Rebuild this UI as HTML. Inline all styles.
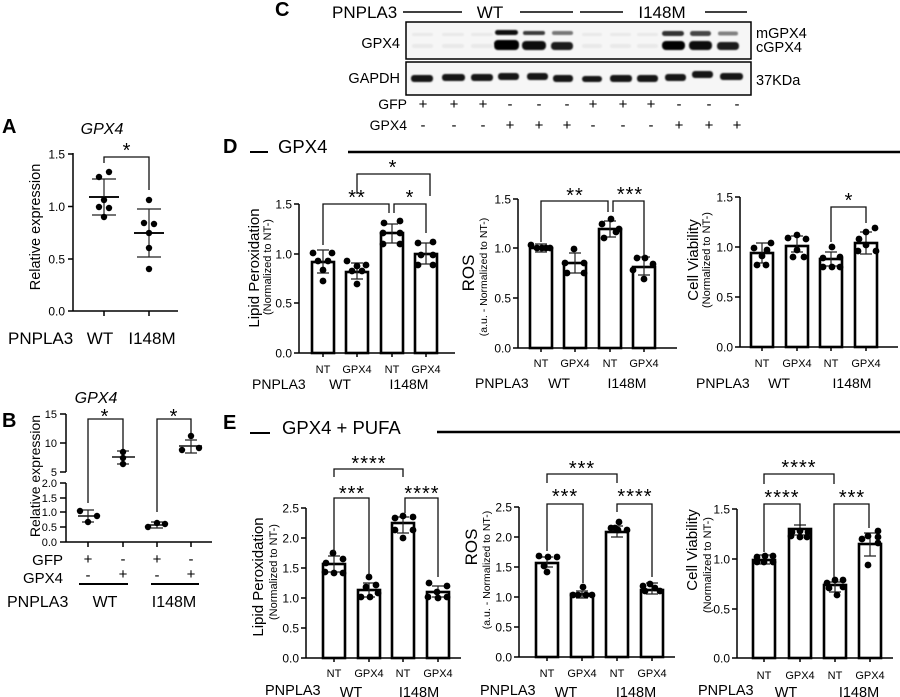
<!DOCTYPE html>
<html><head><meta charset="utf-8"><style>
html,body{margin:0;padding:0;background:#fff;}
svg{display:block;}
text{font-family:"Liberation Sans",Arial,sans-serif;fill:#000;}
.ax{stroke:#000;stroke-width:1.5;fill:none;}
.bar{fill:#fff;stroke:#000;stroke-width:2.6;}
.er{stroke:#222;stroke-width:1.2;fill:none;}
.br{stroke:#111;stroke-width:1.3;fill:none;}
.tk{font-size:12px;text-anchor:end;}
.xl{font-size:11px;text-anchor:middle;}
.st{font-size:20px;text-anchor:middle;letter-spacing:1px;}
.pm{font-size:15px;text-anchor:middle;}
</style></head><body>
<svg width="900" height="697" viewBox="0 0 900 697" xmlns="http://www.w3.org/2000/svg">
<rect width="900" height="697" fill="#fff"/>
<defs><filter id="bl" x="-20%" y="-50%" width="140%" height="200%"><feGaussianBlur stdDeviation="0.9"/></filter></defs>

<!-- ============ PANEL A ============ -->
<text x="2" y="133" font-size="20" font-weight="bold">A</text>
<text x="102" y="134" font-size="16" font-style="italic" text-anchor="middle">GPX4</text>
<path class="ax" d="M73,153V311H178 M68,154H73 M68,206.5H73 M68,259H73 M68,311H73 M104,311V316 M149,311V316"/>
<text class="tk" x="65" y="158.5" font-size="12.5">1.5</text>
<text class="tk" x="65" y="211" font-size="12.5">1.0</text>
<text class="tk" x="65" y="263.5" font-size="12.5">0.5</text>
<text class="tk" x="65" y="315.5" font-size="12.5">0.0</text>
<text transform="translate(40,227) rotate(-90)" font-size="14.5" text-anchor="middle">Relative expression</text>
<path class="br" d="M104,163V157H149V190"/>
<text class="st" x="127" y="157">*</text>
<path stroke="#111" stroke-width="2" d="M89,197H119 M134,233H164"/>
<path class="er" d="M104,179V215 M92,179H116 M92,215H116 M149,209V257 M137,209H161 M137,257H161"/>
<g fill="#000">
<circle cx="99" cy="177" r="3.2"/><circle cx="109" cy="172" r="3.2"/><circle cx="104" cy="200" r="3.2"/><circle cx="99" cy="207" r="3.2"/><circle cx="109" cy="208" r="3.2"/><circle cx="104" cy="217" r="3.2"/>
<circle cx="149" cy="200" r="3.2"/><circle cx="144" cy="223" r="3.2"/><circle cx="154" cy="224" r="3.2"/><circle cx="149" cy="233" r="3.2"/><circle cx="149" cy="248" r="3.2"/><circle cx="149" cy="269" r="3.2"/>
</g>
<text x="8" y="344" font-size="17">PNPLA3</text>
<text x="100" y="344" font-size="17" text-anchor="middle">WT</text>
<text x="152" y="344" font-size="17" text-anchor="middle">I148M</text>

<!-- ============ PANEL B ============ -->
<text x="2" y="427" font-size="20" font-weight="bold">B</text>
<text x="96" y="403" font-size="16" font-style="italic" text-anchor="middle">GPX4</text>
<path class="ax" d="M66,414V472 M66,483V542H212 M60,414H66 M60,443H66 M60,472H66 M60,483H66 M60,498H66 M60,512H66 M60,527H66 M60,542H66 M88,542V547 M123,542V547 M157,542V547 M191,542V547"/>
<g font-size="11" text-anchor="end">
<text x="57" y="418">15</text><text x="57" y="447">10</text><text x="57" y="476">5</text>
<text x="57" y="487">2.0</text><text x="57" y="502">1.5</text><text x="57" y="516">1.0</text><text x="57" y="531">0.5</text><text x="57" y="546">0.0</text>
</g>
<text transform="translate(40,476) rotate(-90)" font-size="14" text-anchor="middle">Relative expression</text>
<path class="br" d="M88,503V419H123V450 M157,512V419H191V433"/>
<text class="st" x="105" y="423">*</text>
<text class="st" x="174" y="423">*</text>
<path stroke="#111" stroke-width="1.6" d="M78,516H98 M112,457H135 M147,525H167 M179,446H202"/>
<path class="er" d="M88,510V522 M82,510H94 M82,522H94 M123,451V464 M117,451H129 M117,464H129 M157,522V528 M151,522H163 M151,528H163 M191,440V453 M185,440H197 M185,453H197"/>
<g fill="#000">
<circle cx="80" cy="511" r="3.2"/><circle cx="97" cy="516" r="3.2"/><circle cx="88" cy="522" r="3.2"/>
<circle cx="123" cy="452" r="3.2"/><circle cx="123" cy="458" r="3.2"/><circle cx="123" cy="464" r="3.2"/>
<circle cx="148" cy="527" r="3.2"/><circle cx="157" cy="523" r="3.2"/><circle cx="165" cy="524" r="3.2"/>
<circle cx="191" cy="436" r="3.2"/><circle cx="182" cy="450" r="3.2"/><circle cx="199" cy="448" r="3.2"/>
</g>
<text x="63" y="565" font-size="15" text-anchor="end">GFP</text>
<text x="63" y="583" font-size="15" text-anchor="end">GPX4</text>
<text class="pm" x="88" y="564">+</text><text class="pm" x="123" y="564">-</text><text class="pm" x="157" y="564">+</text><text class="pm" x="191" y="564">-</text>
<text class="pm" x="88" y="580">-</text><text class="pm" x="123" y="579">+</text><text class="pm" x="157" y="580">-</text><text class="pm" x="191" y="579">+</text>
<path stroke="#000" stroke-width="2" d="M79,584H128 M151,584H199"/>
<text x="7" y="607" font-size="16">PNPLA3</text>
<text x="105" y="607" font-size="16" text-anchor="middle">WT</text>
<text x="174" y="607" font-size="16" text-anchor="middle">I148M</text>

<!-- ============ PANEL C ============ -->
<text x="275" y="16" font-size="20" font-weight="bold">C</text>
<text x="332" y="18" font-size="17">PNPLA3</text>
<path stroke="#000" stroke-width="1.6" d="M403,12H462 M520,12H573 M580,12H623 M705,12H747"/>
<text x="490" y="18" font-size="17" text-anchor="middle">WT</text>
<text x="662" y="18" font-size="17" text-anchor="middle">I148M</text>
<rect x="406" y="22" width="345" height="37" fill="#f6f6f6" stroke="#000" stroke-width="1.5"/>
<rect x="406" y="62" width="345" height="33" fill="#f6f6f6" stroke="#000" stroke-width="1.5"/>
<g filter="url(#bl)">
<g fill="#e9e9e9">
<rect x="412" y="33" width="21" height="3" rx="1.5"/><rect x="442" y="33" width="22" height="3" rx="1.5"/><rect x="471" y="33" width="22" height="3" rx="1.5"/>
<rect x="412" y="44" width="21" height="4" rx="2"/><rect x="442" y="44" width="22" height="4" rx="2"/><rect x="471" y="44" width="22" height="4" rx="2"/>
<rect x="582" y="33" width="20" height="3" rx="1.5"/><rect x="610" y="33" width="21" height="3" rx="1.5"/><rect x="637" y="33" width="21" height="3" rx="1.5"/>
<rect x="582" y="44" width="20" height="4" rx="2"/><rect x="610" y="44" width="21" height="4" rx="2"/><rect x="637" y="44" width="21" height="4" rx="2"/>
</g>
<rect x="495" y="30" width="23" height="5" rx="2.5" fill="#111"/>
<rect x="523" y="31" width="22" height="4" rx="2" fill="#3a3a3a"/>
<rect x="552" y="31" width="21" height="4" rx="2" fill="#777"/>
<rect x="662" y="31" width="22" height="5" rx="2.5" fill="#333"/>
<rect x="690" y="31" width="21" height="5" rx="2.5" fill="#444"/>
<rect x="718" y="31.5" width="20" height="4" rx="2" fill="#808080"/>
<rect x="494" y="40" width="25" height="10" rx="4" fill="#000"/>
<rect x="522" y="41" width="24" height="9" rx="4" fill="#0a0a0a"/>
<rect x="551" y="42" width="22" height="8" rx="3.5" fill="#1e1e1e"/>
<rect x="662" y="41" width="23" height="9" rx="4" fill="#000"/>
<rect x="689" y="41" width="23" height="9" rx="4" fill="#0d0d0d"/>
<rect x="717" y="42" width="22" height="8" rx="3.5" fill="#1e1e1e"/>
<g fill="#141414">
<rect x="411" y="75" width="22" height="7" rx="3"/><rect x="442" y="74" width="23" height="7" rx="3"/><rect x="471" y="74" width="22" height="7" rx="3"/>
<rect x="498" y="73" width="21" height="7" rx="3"/><rect x="527" y="73" width="21" height="7" rx="3"/><rect x="553" y="75" width="20" height="7" rx="3"/>
<rect x="582" y="76" width="20" height="6" rx="3"/><rect x="610" y="75" width="22" height="7" rx="3"/><rect x="637" y="75" width="21" height="7" rx="3"/>
<rect x="665" y="74" width="21" height="7" rx="3"/><rect x="692" y="71" width="21" height="7" rx="3"/><rect x="720" y="73" width="23" height="7" rx="3"/>
</g>
</g>
<text x="400" y="48" font-size="14.5" text-anchor="end">GPX4</text>
<text x="400" y="83" font-size="14.5" text-anchor="end">GAPDH</text>
<text x="756" y="38" font-size="14.5">mGPX4</text>
<text x="756" y="52" font-size="14.5">cGPX4</text>
<text x="756" y="85" font-size="14.5">37KDa</text>
<text x="407" y="109" font-size="14" text-anchor="end">GFP</text>
<text x="407" y="130" font-size="14" text-anchor="end">GPX4</text>
<g>
<text class="pm" x="423" y="109">+</text><text class="pm" x="454" y="109">+</text><text class="pm" x="483" y="109">+</text>
<text class="pm" x="510" y="109">-</text><text class="pm" x="539" y="109">-</text><text class="pm" x="567" y="109">-</text>
<text class="pm" x="593" y="109">+</text><text class="pm" x="623" y="109">+</text><text class="pm" x="651" y="109">+</text>
<text class="pm" x="679" y="109">-</text><text class="pm" x="709" y="109">-</text><text class="pm" x="737" y="109">-</text>
<text class="pm" x="423" y="130">-</text><text class="pm" x="454" y="130">-</text><text class="pm" x="483" y="130">-</text>
<text class="pm" x="510" y="130">+</text><text class="pm" x="539" y="130">+</text><text class="pm" x="567" y="130">+</text>
<text class="pm" x="593" y="130">-</text><text class="pm" x="623" y="130">-</text><text class="pm" x="651" y="130">-</text>
<text class="pm" x="679" y="130">+</text><text class="pm" x="709" y="130">+</text><text class="pm" x="737" y="130">+</text>
</g>

<!-- ============ PANEL D HEADER ============ -->
<text x="223" y="153" font-size="20" font-weight="bold">D</text>
<path stroke="#000" stroke-width="2" d="M250,152H268"/>
<text x="278" y="153" font-size="18.5">GPX4</text>
<path stroke="#000" stroke-width="2.5" d="M348,152H900"/>

<!-- D Lipid -->
<path class="ax" d="M299,204V353H455 M294,204H299 M294,254H299 M294,303H299 M294,353H299 M323,353V357 M357,353V357 M392,353V357 M426,353V357"/>
<text class="tk" x="292" y="208.5">1.5</text><text class="tk" x="292" y="258.5">1.0</text><text class="tk" x="292" y="307.5">0.5</text><text class="tk" x="292" y="357.5">0.0</text>
<text transform="translate(259,268) rotate(-90)" font-size="15" text-anchor="middle">Lipid Peroxidation</text>
<text transform="translate(271,267) rotate(-90)" font-size="11" text-anchor="middle">(Normalized to NT-)</text>
<rect class="bar" x="312" y="262" width="22" height="91"/>
<rect class="bar" x="346" y="272" width="22" height="81"/>
<rect class="bar" x="381" y="233" width="22" height="120"/>
<rect class="bar" x="415" y="254" width="22" height="99"/>
<path class="er" d="M323,250V273 M317,250H329 M317,273H329 M357,263V279 M351,263H363 M351,279H363 M392,224V243 M386,224H398 M386,243H398 M426,243V264 M420,243H432 M420,264H432"/>
<g fill="#000">
<circle cx="313" cy="253" r="3.4"/><circle cx="332" cy="253" r="3.4"/><circle cx="318" cy="261" r="3.4"/><circle cx="328" cy="261" r="3.4"/><circle cx="323" cy="270" r="3.4"/><circle cx="323" cy="281" r="3.4"/>
<circle cx="347" cy="261" r="3.4"/><circle cx="366" cy="265" r="3.4"/><circle cx="357" cy="266" r="3.4"/><circle cx="352" cy="271" r="3.4"/><circle cx="362" cy="271" r="3.4"/><circle cx="357" cy="284" r="3.4"/>
<circle cx="384" cy="223" r="3.4"/><circle cx="400" cy="221" r="3.4"/><circle cx="383" cy="233" r="3.4"/><circle cx="400" cy="233" r="3.4"/><circle cx="383" cy="244" r="3.4"/><circle cx="400" cy="244" r="3.4"/>
<circle cx="418" cy="243" r="3.4"/><circle cx="433" cy="242" r="3.4"/><circle cx="421" cy="255" r="3.4"/><circle cx="433" cy="255" r="3.4"/><circle cx="418" cy="265" r="3.4"/><circle cx="433" cy="265" r="3.4"/>
</g>
<path class="br" d="M323,245V204H389V213 M394,213V204H426V233 M357,194V174H430V196"/>
<text class="st" x="357" y="204">**</text>
<text class="st" x="410" y="204">*</text>
<text class="st" x="393" y="174">*</text>
<text class="xl" x="323" y="373">NT</text><text class="xl" x="357" y="373">GPX4</text><text class="xl" x="392" y="373">NT</text><text class="xl" x="426" y="373">GPX4</text>
<text x="252" y="389" font-size="14">PNPLA3</text>
<text x="340" y="389" font-size="14" text-anchor="middle">WT</text>
<text x="409" y="389" font-size="14" text-anchor="middle">I148M</text>

<!-- D ROS -->
<path class="ax" d="M518,199V348H677 M513,199H518 M513,248H518 M513,298H518 M513,348H518 M541,348V352 M575,348V352 M610,348V352 M644,348V352"/>
<text class="tk" x="511" y="203.5">1.5</text><text class="tk" x="511" y="252.5">1.0</text><text class="tk" x="511" y="302.5">0.5</text><text class="tk" x="511" y="352.5">0.0</text>
<text transform="translate(474,273) rotate(-90)" font-size="17" text-anchor="middle">ROS</text>
<text transform="translate(487,277) rotate(-90)" font-size="10.5" text-anchor="middle">(a.u. - Normalized to NT-)</text>
<rect class="bar" x="530" y="248" width="22" height="100"/>
<rect class="bar" x="564" y="263" width="22" height="85"/>
<rect class="bar" x="599" y="229" width="22" height="119"/>
<rect class="bar" x="633" y="267" width="22" height="81"/>
<path class="er" d="M541,244V252 M535,244H547 M535,252H547 M575,253V273 M569,253H581 M569,273H581 M610,221V237 M604,221H616 M604,237H616 M644,257V275 M638,257H650 M638,275H650"/>
<g fill="#000">
<circle cx="531" cy="245" r="3.4"/><circle cx="537" cy="248" r="3.4"/><circle cx="542" cy="248" r="3.4"/><circle cx="546" cy="248" r="3.4"/><circle cx="550" cy="248" r="3.4"/>
<circle cx="574" cy="249" r="3.4"/><circle cx="565" cy="263" r="3.4"/><circle cx="584" cy="263" r="3.4"/><circle cx="567" cy="273" r="3.4"/><circle cx="584" cy="273" r="3.4"/>
<circle cx="611" cy="219" r="3.4"/><circle cx="602" cy="224" r="3.4"/><circle cx="619" cy="229" r="3.4"/><circle cx="604" cy="238" r="3.4"/><circle cx="616" cy="232" r="3.4"/>
<circle cx="637" cy="258" r="3.4"/><circle cx="645" cy="258" r="3.4"/><circle cx="653" cy="264" r="3.4"/><circle cx="633" cy="270" r="3.4"/><circle cx="644" cy="279" r="3.4"/>
</g>
<path class="br" d="M541,242V201H608V212 M613,212V201H644V256"/>
<text class="st" x="575" y="202">**</text>
<text class="st" x="630" y="201">***</text>
<text class="xl" x="541" y="367">NT</text><text class="xl" x="575" y="367">GPX4</text><text class="xl" x="610" y="367">NT</text><text class="xl" x="644" y="367">GPX4</text>
<text x="475" y="388" font-size="14">PNPLA3</text>
<text x="559" y="388" font-size="14" text-anchor="middle">WT</text>
<text x="627" y="388" font-size="14" text-anchor="middle">I148M</text>

<!-- D Cell Viability -->
<path class="ax" d="M740,197V347H898 M735,197H740 M735,247H740 M735,297H740 M735,347H740 M762,347V351 M797,347V351 M831,347V351 M866,347V351"/>
<text class="tk" x="733" y="201.5">1.5</text><text class="tk" x="733" y="251.5">1.0</text><text class="tk" x="733" y="301.5">0.5</text><text class="tk" x="733" y="351.5">0.0</text>
<text transform="translate(698,260) rotate(-90)" font-size="15" text-anchor="middle">Cell Viability</text>
<text transform="translate(710,260) rotate(-90)" font-size="11" text-anchor="middle">(Normalized to NT-)</text>
<rect class="bar" x="751" y="253" width="22" height="94"/>
<rect class="bar" x="786" y="246" width="22" height="101"/>
<rect class="bar" x="820" y="259" width="22" height="88"/>
<rect class="bar" x="855" y="243" width="22" height="104"/>
<path class="er" d="M762,243V263 M756,243H768 M756,263H768 M797,236V252 M791,236H803 M791,252H803 M831,252V266 M825,252H837 M825,266H837 M866,232V254 M860,232H872 M860,254H872"/>
<g fill="#000">
<circle cx="754" cy="248" r="3.4"/><circle cx="762" cy="256" r="3.4"/><circle cx="771" cy="243" r="3.4"/><circle cx="757" cy="265" r="3.4"/><circle cx="766" cy="265" r="3.4"/><circle cx="767" cy="250" r="3.4"/>
<circle cx="788" cy="238" r="3.4"/><circle cx="797" cy="235" r="3.4"/><circle cx="806" cy="239" r="3.4"/><circle cx="793" cy="257" r="3.4"/><circle cx="804" cy="257" r="3.4"/><circle cx="797" cy="250" r="3.4"/>
<circle cx="823" cy="258" r="3.4"/><circle cx="832" cy="247" r="3.4"/><circle cx="840" cy="257" r="3.4"/><circle cx="823" cy="267" r="3.4"/><circle cx="832" cy="267" r="3.4"/><circle cx="840" cy="267" r="3.4"/>
<circle cx="859" cy="239" r="3.4"/><circle cx="875" cy="228" r="3.4"/><circle cx="866" cy="245" r="3.4"/><circle cx="858" cy="251" r="3.4"/><circle cx="876" cy="251" r="3.4"/><circle cx="866" cy="232" r="3.4"/>
</g>
<path class="br" d="M831,242V207H866V223"/>
<text class="st" x="849" y="207">*</text>
<text class="xl" x="762" y="367">NT</text><text class="xl" x="797" y="367">GPX4</text><text class="xl" x="831" y="367">NT</text><text class="xl" x="866" y="367">GPX4</text>
<text x="696" y="388" font-size="14">PNPLA3</text>
<text x="779" y="388" font-size="14" text-anchor="middle">WT</text>
<text x="852" y="388" font-size="14" text-anchor="middle">I148M</text>

<!-- ============ PANEL E HEADER ============ -->
<text x="223" y="429" font-size="20" font-weight="bold">E</text>
<path stroke="#000" stroke-width="2" d="M250,433H270"/>
<text x="282" y="434" font-size="18.5">GPX4 + PUFA</text>
<path stroke="#000" stroke-width="2.5" d="M437,432H900"/>

<!-- E Lipid -->
<path class="ax" d="M306,508V658H461 M301,508H306 M301,538H306 M301,568H306 M301,598H306 M301,628H306 M301,658H306 M334,658V662 M369,658V662 M403,658V662 M438,658V662"/>
<text class="tk" x="299" y="512.5">2.5</text><text class="tk" x="299" y="542.5">2.0</text><text class="tk" x="299" y="572.5">1.5</text><text class="tk" x="299" y="602.5">1.0</text><text class="tk" x="299" y="632.5">0.5</text><text class="tk" x="299" y="662.5">0.0</text>
<text transform="translate(263,577) rotate(-90)" font-size="15" text-anchor="middle">Lipid Peroxidation</text>
<text transform="translate(277,572) rotate(-90)" font-size="11" text-anchor="middle">(Normalized to NT-)</text>
<rect class="bar" x="323" y="564" width="22" height="94"/>
<rect class="bar" x="358" y="590" width="22" height="68"/>
<rect class="bar" x="392" y="523" width="22" height="135"/>
<rect class="bar" x="427" y="592" width="22" height="66"/>
<path class="er" d="M334,556V572 M328,556H340 M328,572H340 M369,583V597 M363,583H375 M363,597H375 M403,517V533 M397,517H409 M397,533H409 M438,586V597 M432,586H444 M432,597H444"/>
<g fill="#000">
<circle cx="333" cy="553" r="3.4"/><circle cx="326" cy="563" r="3.4"/><circle cx="343" cy="559" r="3.4"/><circle cx="325" cy="572" r="3.4"/><circle cx="334" cy="573" r="3.4"/><circle cx="343" cy="573" r="3.4"/>
<circle cx="369" cy="577" r="3.4"/><circle cx="361" cy="597" r="3.4"/><circle cx="370" cy="597" r="3.4"/><circle cx="378" cy="593" r="3.4"/><circle cx="366" cy="587" r="3.4"/><circle cx="376" cy="585" r="3.4"/>
<circle cx="403" cy="516" r="3.4"/><circle cx="395" cy="518" r="3.4"/><circle cx="413" cy="517" r="3.4"/><circle cx="395" cy="530" r="3.4"/><circle cx="413" cy="530" r="3.4"/><circle cx="403" cy="538" r="3.4"/>
<circle cx="429" cy="583" r="3.4"/><circle cx="447" cy="586" r="3.4"/><circle cx="428" cy="597" r="3.4"/><circle cx="438" cy="598" r="3.4"/><circle cx="447" cy="597" r="3.4"/><circle cx="437" cy="592" r="3.4"/>
</g>
<path class="br" d="M334,552V498H369V575 M405,513V498H438V577 M334,477V469H403V477"/>
<text class="st" x="352" y="500">***</text>
<text class="st" x="422" y="500">****</text>
<text class="st" x="369" y="470">****</text>
<text class="xl" x="334" y="677">NT</text><text class="xl" x="369" y="677">GPX4</text><text class="xl" x="403" y="677">NT</text><text class="xl" x="438" y="677">GPX4</text>
<text x="265" y="695" font-size="14.5">PNPLA3</text>
<text x="351" y="697" font-size="14.5" text-anchor="middle">WT</text>
<text x="419" y="697" font-size="14.5" text-anchor="middle">I148M</text>

<!-- E ROS -->
<path class="ax" d="M519,507V657H675 M514,507H519 M514,537H519 M514,567H519 M514,597H519 M514,627H519 M514,657H519 M547,657V661 M582,657V661 M617,657V661 M652,657V661"/>
<text class="tk" x="512" y="511.5">2.5</text><text class="tk" x="512" y="541.5">2.0</text><text class="tk" x="512" y="571.5">1.5</text><text class="tk" x="512" y="601.5">1.0</text><text class="tk" x="512" y="631.5">0.5</text><text class="tk" x="512" y="661.5">0.0</text>
<text transform="translate(477,547) rotate(-90)" font-size="17" text-anchor="middle">ROS</text>
<text transform="translate(490,570) rotate(-90)" font-size="10.5" text-anchor="middle">(a.u. - Normalized to NT-)</text>
<rect class="bar" x="536" y="563" width="22" height="94"/>
<rect class="bar" x="571" y="594" width="22" height="63"/>
<rect class="bar" x="606" y="532" width="22" height="125"/>
<rect class="bar" x="641" y="590" width="22" height="67"/>
<path class="er" d="M547,557V567 M541,557H553 M541,567H553 M582,591V598 M576,591H588 M576,598H588 M617,526V537 M611,526H623 M611,537H623 M652,583V594 M646,583H658 M646,594H658"/>
<g fill="#000">
<circle cx="539" cy="556" r="3.4"/><circle cx="548" cy="557" r="3.4"/><circle cx="557" cy="557" r="3.4"/><circle cx="544" cy="566" r="3.4"/><circle cx="547" cy="572" r="3.4"/>
<circle cx="583" cy="587" r="3.4"/><circle cx="573" cy="595" r="3.4"/><circle cx="578" cy="595" r="3.4"/><circle cx="586" cy="595" r="3.4"/><circle cx="592" cy="595" r="3.4"/>
<circle cx="619" cy="522" r="3.4"/><circle cx="611" cy="528" r="3.4"/><circle cx="618" cy="530" r="3.4"/><circle cx="627" cy="530" r="3.4"/><circle cx="615" cy="528" r="3.4"/>
<circle cx="650" cy="584" r="3.4"/><circle cx="643" cy="586" r="3.4"/><circle cx="655" cy="588" r="3.4"/><circle cx="660" cy="591" r="3.4"/><circle cx="645" cy="591" r="3.4"/>
</g>
<path class="br" d="M547,483V474H617V483 M547,551V504H583V583 M617,512V504H652V577"/>
<text class="st" x="582" y="475">***</text>
<text class="st" x="565" y="503">***</text>
<text class="st" x="635" y="503">****</text>
<text class="xl" x="547" y="677">NT</text><text class="xl" x="582" y="677">GPX4</text><text class="xl" x="617" y="677">NT</text><text class="xl" x="652" y="677">GPX4</text>
<text x="480" y="695" font-size="14.5">PNPLA3</text>
<text x="566" y="697" font-size="14.5" text-anchor="middle">WT</text>
<text x="636" y="697" font-size="14.5" text-anchor="middle">I148M</text>

<!-- E Cell Viability -->
<path class="ax" d="M737,509V658H893 M732,509H737 M732,559H737 M732,609H737 M732,658H737 M764,658V662 M800,658V662 M835,658V662 M870,658V662"/>
<text class="tk" x="730" y="513.5">1.5</text><text class="tk" x="730" y="563.5">1.0</text><text class="tk" x="730" y="613.5">0.5</text><text class="tk" x="730" y="662.5">0.0</text>
<text transform="translate(697,550) rotate(-90)" font-size="15" text-anchor="middle">Cell Viability</text>
<text transform="translate(711,565) rotate(-90)" font-size="11" text-anchor="middle">(Normalized to NT-)</text>
<rect class="bar" x="753" y="560" width="22" height="98"/>
<rect class="bar" x="789" y="529" width="22" height="129"/>
<rect class="bar" x="824" y="585" width="22" height="73"/>
<rect class="bar" x="859" y="544" width="22" height="114"/>
<path class="er" d="M764,555V564 M758,555H770 M758,564H770 M800,525V535 M794,525H806 M794,535H806 M835,582V592 M829,582H841 M829,592H841 M870,533V556 M864,533H876 M864,556H876"/>
<g fill="#000">
<circle cx="765" cy="556" r="3.4"/><circle cx="773" cy="556" r="3.4"/><circle cx="757" cy="557" r="3.4"/><circle cx="757" cy="562" r="3.4"/><circle cx="764" cy="562" r="3.4"/><circle cx="773" cy="562" r="3.4"/>
<circle cx="792" cy="532" r="3.4"/><circle cx="800" cy="531" r="3.4"/><circle cx="808" cy="532" r="3.4"/><circle cx="791" cy="536" r="3.4"/><circle cx="807" cy="537" r="3.4"/><circle cx="800" cy="537" r="3.4"/>
<circle cx="835" cy="580" r="3.4"/><circle cx="827" cy="583" r="3.4"/><circle cx="843" cy="580" r="3.4"/><circle cx="829" cy="588" r="3.4"/><circle cx="837" cy="595" r="3.4"/><circle cx="843" cy="587" r="3.4"/>
<circle cx="878" cy="531" r="3.4"/><circle cx="878" cy="537" r="3.4"/><circle cx="878" cy="543" r="3.4"/><circle cx="862" cy="539" r="3.4"/><circle cx="868" cy="536" r="3.4"/><circle cx="868" cy="565" r="3.4"/>
</g>
<path class="br" d="M764,484V474H834V484 M764,552V504H800V526 M834,577V504H869V528"/>
<text class="st" x="799" y="474">****</text>
<text class="st" x="782" y="504">****</text>
<text class="st" x="852" y="504">***</text>
<text class="xl" x="764" y="679">NT</text><text class="xl" x="800" y="679">GPX4</text><text class="xl" x="835" y="679">NT</text><text class="xl" x="870" y="679">GPX4</text>
<text x="698" y="695" font-size="14.5">PNPLA3</text>
<text x="786" y="697" font-size="14.5" text-anchor="middle">WT</text>
<text x="859" y="697" font-size="14.5" text-anchor="middle">I148M</text>
</svg>
</body></html>
